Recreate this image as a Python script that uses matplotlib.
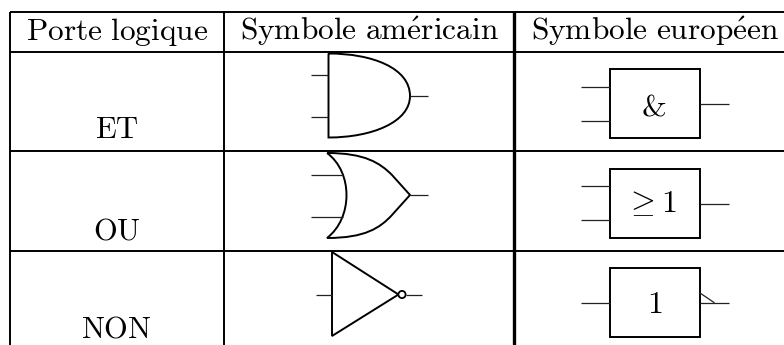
import matplotlib
matplotlib.use('Agg')
import matplotlib.pyplot as plt
from matplotlib.path import Path
from matplotlib.patches import PathPatch, Rectangle, Circle

plt.rcParams['mathtext.fontset'] = 'cm'

# texte du tableau
headers = [r'$\mathrm{Porte\ logique}$', r'$\mathrm{Symbole\ am\acute{e}ricain}$', r'$\mathrm{Symbole\ europ\acute{e}en}$']
header_x = [117, 369.5, 655]
gates = [r'$\mathrm{ET}$', r'$\mathrm{OU}$', r'$\mathrm{NON}$']
gate_base = [138, 239, 337.5]
symbols = [r'$\mathrm{&}$', r'$\geq 1$', r'$1$']
symbol_x = [654, 651, 655]
symbol_y = [116, 212, 313]

# grille du tableau
h_lines = [12, 52, 151, 250.5]
v_lines = [10, 224, 514.5]
v_widths = [1.4, 1.4, 2.4]

# boites europeennes
box_left, box_right = 610, 700
box_top = [69, 168.5, 268]
box_bottom = [138, 237.5, 336.5]
box_inputs = [[86.5, 121], [186, 220], [302.5]]
box_output = [104, 203.5, 302.5]

fig = plt.figure(figsize=(7.84, 3.45), dpi=100)
ax = fig.add_axes([0, 0, 1, 1])
ax.set_xlim(0, 784)
ax.set_ylim(345, 0)
ax.axis('off')

for y in h_lines:
    ax.plot([10, 784], [y, y], color='black', lw=1.4, solid_capstyle='butt')
for x, w in zip(v_lines, v_widths):
    ax.plot([x, x], [12, 345], color='black', lw=w, solid_capstyle='butt')

for x, s in zip(header_x, headers):
    ax.text(x, 40, s, fontsize=22.6, ha='center', va='baseline', color='black')
for y, s in zip(gate_base, gates):
    ax.text(116.5, y, s, fontsize=22, ha='center', va='baseline', color='black')


def wire(x0, x1, y):
    ax.plot([x0, x1], [y, y], color='#222222', lw=0.9, solid_capstyle='butt')


# porte ET americaine
and_path = Path(
    [(328.5, 53.5), (372, 53.5), (410, 68), (410, 96), (410, 122), (372, 137.5), (328.5, 137.5), (328.5, 53.5)],
    [Path.MOVETO, Path.CURVE4, Path.CURVE4, Path.CURVE4, Path.CURVE4, Path.CURVE4, Path.CURVE4, Path.LINETO],
)
ax.add_patch(PathPatch(and_path, fc='none', ec='black', lw=1.4))
wire(311, 328, 74.5)
wire(311, 328, 117)
wire(410, 428, 96)

# porte OU americaine
or_path = Path(
    [(327, 153), (353, 172), (353, 218), (327, 238),
     (365, 238), (380, 228), (392, 215), (410, 195),
     (392, 175), (380, 163), (365, 153), (327, 153)],
    [Path.MOVETO, Path.CURVE4, Path.CURVE4, Path.CURVE4,
     Path.CURVE4, Path.CURVE4, Path.CURVE4, Path.LINETO,
     Path.LINETO, Path.CURVE4, Path.CURVE4, Path.CURVE4],
)
ax.add_patch(PathPatch(or_path, fc='none', ec='black', lw=1.4))
wire(311, 343, 174.5)
wire(311, 343, 216.5)
wire(410, 428, 195)

# porte NON americaine
not_path = Path([(332, 252), (398.5, 294.5), (332, 336), (332, 252)],
                [Path.MOVETO, Path.LINETO, Path.LINETO, Path.CLOSEPOLY])
ax.add_patch(PathPatch(not_path, fc='none', ec='black', lw=1.4))
ax.add_patch(Circle((402, 294.5), 3.6, fc='white', ec='black', lw=1.3, zorder=3))
wire(316, 332, 294.5)
wire(406, 422, 294.5)

# symboles europeens
for i in range(3):
    ax.add_patch(Rectangle((box_left, box_top[i]), box_right - box_left, box_bottom[i] - box_top[i],
                           fc='none', ec='black', lw=1.4))
    for y in box_inputs[i]:
        wire(581, box_left, y)
    wire(box_right, 729, box_output[i])
    ax.text(symbol_x[i], symbol_y[i], symbols[i], fontsize=23, ha='center', va='baseline', color='black')
ax.plot([700, 714], [293, 302.5], color='#222222', lw=0.9)

fig.savefig('out.png', dpi=100)
